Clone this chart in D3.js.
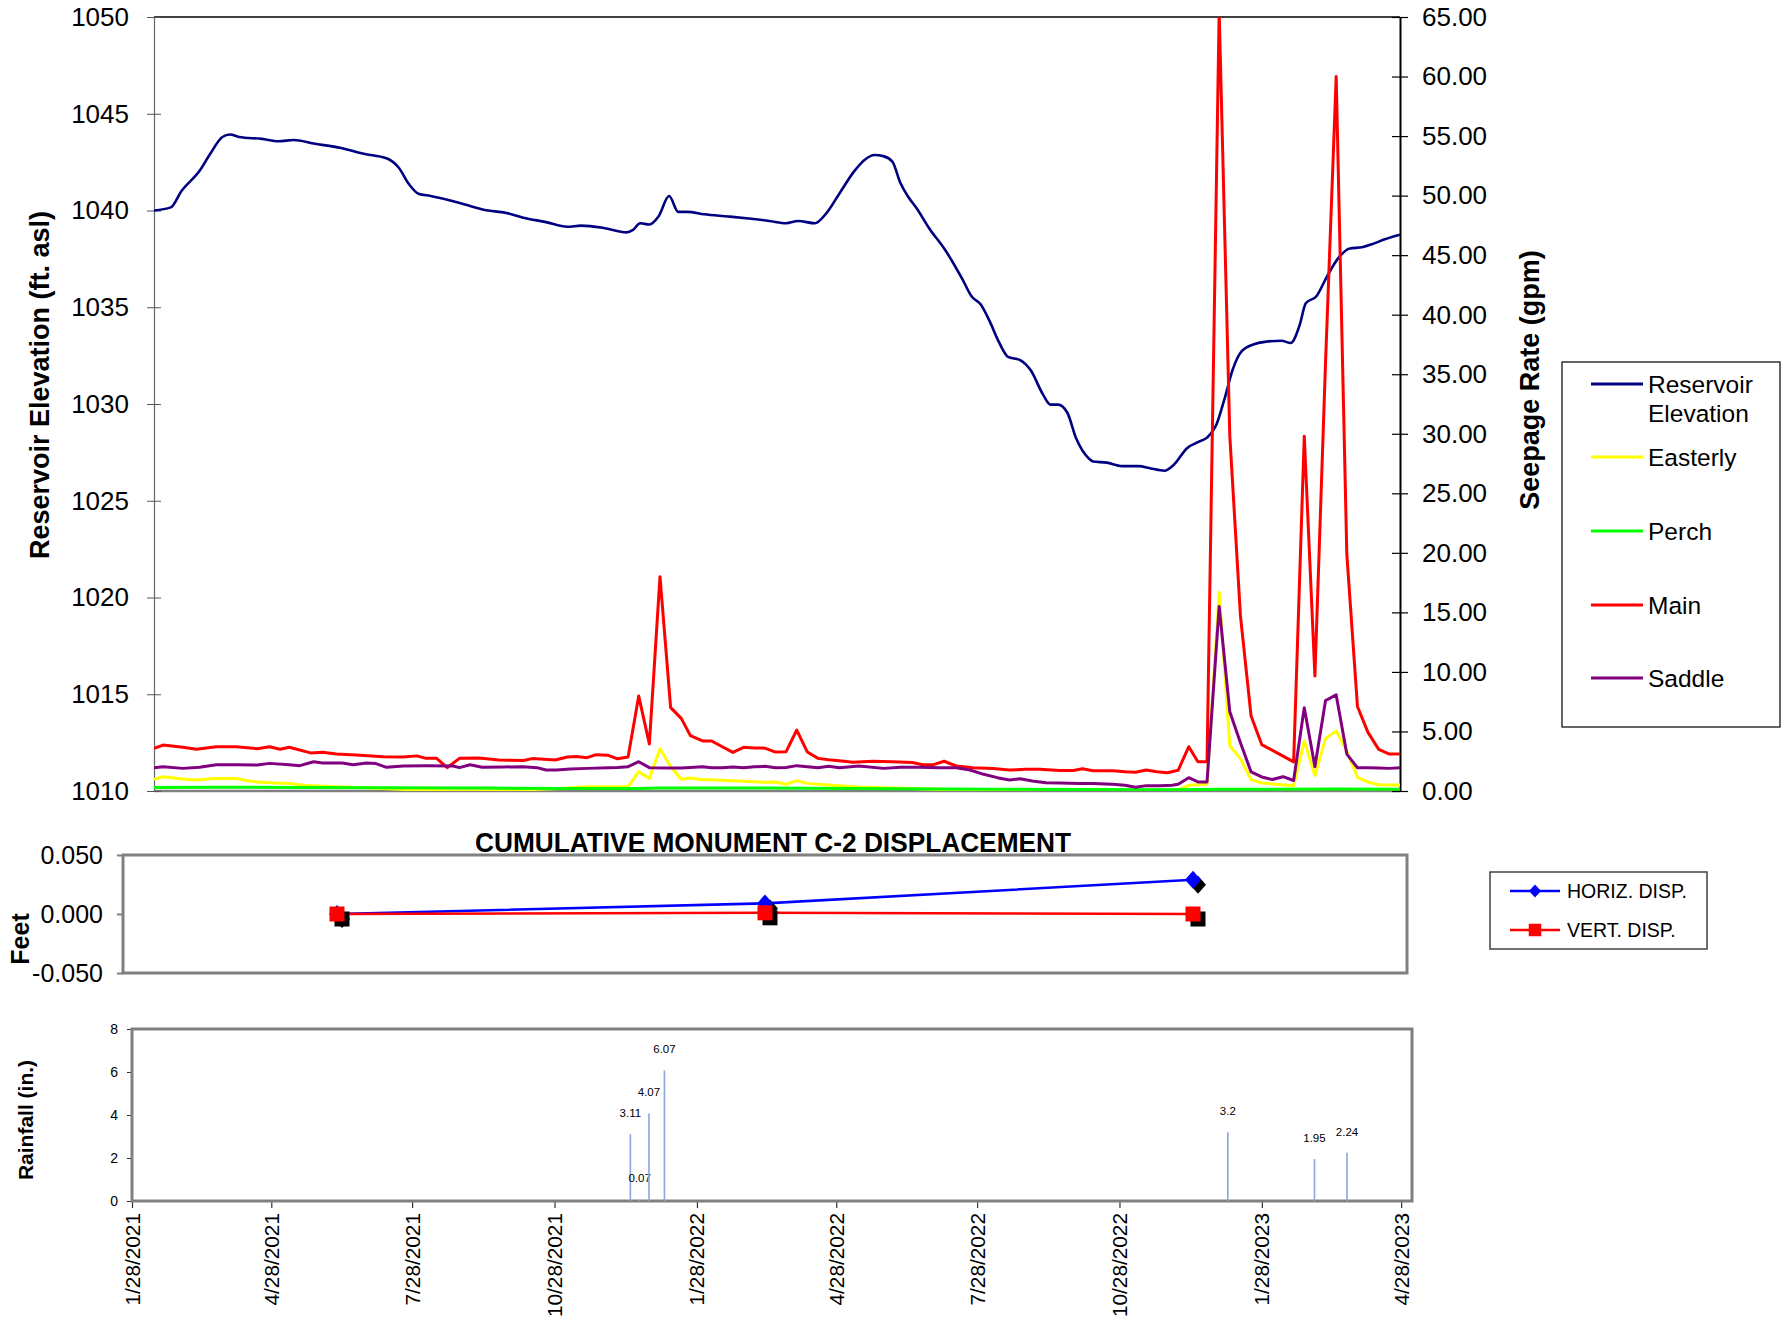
<!DOCTYPE html>
<html><head><meta charset="utf-8">
<script src="https://cdn.jsdelivr.net/npm/d3@7"></script>
<style>
body{margin:0;background:#fff}
svg{display:block}
text{font-family:"Liberation Sans",Arial,sans-serif;fill:#000}
</style>
</head><body>
<svg id="c" width="1787" height="1322"></svg>
<script>
// ---------------- DATA ----------------
const reservoir = [["2021-01-28",1040.0],["2021-02-08",1040.16],["2021-02-15",1041.0],["2021-02-27",1042.05],["2021-03-06",1042.93],["2021-03-14",1043.8],["2021-03-19",1043.93],["2021-03-25",1043.8],["2021-04-09",1043.7],["2021-04-20",1043.58],["2021-04-30",1043.64],["2021-05-13",1043.46],["2021-05-31",1043.23],["2021-06-15",1042.93],["2021-06-30",1042.7],["2021-07-08",1042.22],["2021-07-15",1041.34],["2021-07-21",1040.87],["2021-07-29",1040.75],["2021-08-11",1040.52],["2021-08-22",1040.28],["2021-09-02",1040.04],["2021-09-17",1039.87],["2021-09-28",1039.63],["2021-10-13",1039.4],["2021-10-27",1039.16],["2021-11-05",1039.22],["2021-11-20",1039.1],["2021-12-05",1038.87],["2021-12-09",1038.98],["2021-12-14",1039.34],["2021-12-20",1039.28],["2021-12-26",1039.69],["2022-01-02",1040.75],["2022-01-08",1039.93],["2022-01-14",1039.93],["2022-01-25",1039.81],["2022-02-10",1039.69],["2022-02-25",1039.57],["2022-03-09",1039.46],["2022-03-20",1039.34],["2022-03-28",1039.46],["2022-04-08",1039.34],["2022-04-15",1039.81],["2022-04-24",1040.87],["2022-05-04",1042.05],["2022-05-11",1042.64],["2022-05-17",1042.87],["2022-05-23",1042.81],["2022-05-29",1042.52],["2022-06-03",1041.46],["2022-06-08",1040.75],["2022-06-14",1040.1],["2022-06-22",1039.1],["2022-07-03",1037.92],["2022-07-14",1036.45],["2022-07-20",1035.57],["2022-07-26",1035.15],["2022-08-01",1034.27],["2022-08-07",1033.21],["2022-08-13",1032.44],["2022-08-21",1032.27],["2022-08-28",1031.74],["2022-09-05",1030.5],["2022-09-10",1029.97],["2022-09-15",1029.97],["2022-09-21",1029.56],["2022-09-27",1028.2],["2022-10-05",1027.2],["2022-10-08",1027.03],["2022-10-17",1026.97],["2022-10-27",1026.79],["2022-11-07",1026.79],["2022-11-15",1026.67],["2022-11-24",1026.55],["2022-11-30",1026.85],["2022-12-09",1027.73],["2022-12-16",1028.03],["2022-12-22",1028.26],["2022-12-28",1028.9],["2023-01-03",1030.4],["2023-01-08",1031.8],["2023-01-14",1032.74],["2023-01-22",1033.09],["2023-01-29",1033.21],["2023-02-09",1033.27],["2023-02-15",1033.15],["2023-02-21",1034.09],["2023-02-25",1035.21],["2023-03-04",1035.57],["2023-03-11",1036.6],["2023-03-19",1037.6],["2023-03-26",1038.04],["2023-04-03",1038.1],["2023-04-11",1038.3],["2023-04-18",1038.51],["2023-04-28",1038.75]];

const easterly = [["2021-01-28",0.98],["2021-02-03",1.2],["2021-02-16",1.01],["2021-02-25",0.92],["2021-03-10",1.06],["2021-03-23",1.06],["2021-03-30",0.87],["2021-04-06",0.76],["2021-04-18",0.67],["2021-04-27",0.64],["2021-05-06",0.48],["2021-05-19",0.39],["2021-06-06",0.31],["2021-06-28",0.22],["2021-07-20",0.08],["2021-08-13",0.0],["2021-09-15",0.02],["2021-10-22",0.22],["2021-11-09",0.36],["2021-11-29",0.36],["2021-12-06",0.36],["2021-12-13",1.62],["2021-12-20",1.06],["2021-12-27",3.55],["2022-01-03",2.04],["2022-01-10",0.98],["2022-01-16",1.1],["2022-01-24",0.94],["2022-01-30",0.94],["2022-02-13",0.87],["2022-03-06",0.73],["2022-03-13",0.75],["2022-03-20",0.56],["2022-03-27",0.87],["2022-04-03",0.64],["2022-04-17",0.5],["2022-05-01",0.38],["2022-05-07",0.33],["2022-06-11",0.2],["2022-07-10",0.08],["2022-09-01",0.0],["2022-11-19",0.0],["2022-12-03",0.1],["2022-12-10",0.48],["2022-12-22",0.56],["2022-12-30",16.7],["2023-01-06",3.8],["2023-01-13",2.7],["2023-01-20",0.96],["2023-01-27",0.67],["2023-02-17",0.45],["2023-02-24",4.2],["2023-03-03",1.3],["2023-03-10",4.4],["2023-03-17",5.05],["2023-03-24",3.35],["2023-03-31",1.15],["2023-04-07",0.75],["2023-04-14",0.53],["2023-04-21",0.5],["2023-04-28",0.5]];

const perch = [["2021-01-28",0.3],["2021-03-10",0.32],["2021-05-01",0.3],["2021-07-01",0.27],["2021-09-01",0.25],["2021-10-22",0.22],["2021-12-13",0.2],["2021-12-27",0.26],["2022-02-13",0.26],["2022-04-03",0.24],["2022-06-01",0.18],["2022-08-01",0.15],["2022-10-01",0.12],["2022-12-01",0.1],["2022-12-30",0.14],["2023-02-01",0.14],["2023-03-17",0.16],["2023-04-28",0.14]];

const mainSeep = [["2021-01-28",3.58],["2021-02-03",3.86],["2021-02-16",3.67],["2021-02-25",3.5],["2021-03-10",3.72],["2021-03-23",3.72],["2021-04-06",3.55],["2021-04-14",3.72],["2021-04-21",3.5],["2021-04-27",3.67],["2021-05-11",3.2],["2021-05-19",3.25],["2021-05-28",3.1],["2021-06-10",3.02],["2021-06-28",2.88],["2021-07-11",2.85],["2021-07-20",2.95],["2021-07-26",2.74],["2021-08-02",2.74],["2021-08-09",1.96],["2021-08-17",2.74],["2021-08-30",2.77],["2021-09-12",2.6],["2021-09-28",2.56],["2021-10-04",2.72],["2021-10-19",2.6],["2021-10-27",2.85],["2021-11-02",2.9],["2021-11-09",2.8],["2021-11-15",3.05],["2021-11-23",3.0],["2021-11-29",2.7],["2021-12-06",2.85],["2021-12-13",7.97],["2021-12-20",3.95],["2021-12-27",18.0],["2022-01-03",7.0],["2022-01-10",6.1],["2022-01-16",4.65],["2022-01-24",4.2],["2022-01-30",4.2],["2022-02-06",3.72],["2022-02-13",3.24],["2022-02-20",3.67],["2022-02-27",3.62],["2022-03-06",3.6],["2022-03-13",3.27],["2022-03-20",3.3],["2022-03-27",5.12],["2022-04-03",3.27],["2022-04-10",2.74],["2022-04-17",2.62],["2022-04-24",2.55],["2022-05-03",2.42],["2022-05-16",2.5],["2022-05-29",2.46],["2022-06-11",2.4],["2022-06-18",2.21],["2022-06-25",2.21],["2022-07-02",2.5],["2022-07-10",2.1],["2022-07-21",1.96],["2022-08-03",1.88],["2022-08-14",1.76],["2022-08-25",1.82],["2022-09-03",1.82],["2022-09-16",1.73],["2022-09-25",1.73],["2022-10-01",1.87],["2022-10-08",1.7],["2022-10-21",1.7],["2022-10-29",1.62],["2022-11-05",1.57],["2022-11-12",1.76],["2022-11-19",1.62],["2022-11-26",1.54],["2022-12-03",1.74],["2022-12-10",3.72],["2022-12-16",2.46],["2022-12-22",2.46],["2022-12-30",65.5],["2023-01-06",29.8],["2023-01-13",14.7],["2023-01-20",6.3],["2023-01-27",3.9],["2023-02-17",2.45],["2023-02-24",29.8],["2023-03-03",9.65],["2023-03-10",36],["2023-03-17",60.0],["2023-03-24",19.9],["2023-03-31",7.1],["2023-04-07",4.9],["2023-04-14",3.5],["2023-04-21",3.1],["2023-04-28",3.1]];

const saddle = [["2021-01-28",1.96],["2021-02-03",2.04],["2021-02-16",1.9],["2021-02-27",2.0],["2021-03-10",2.2],["2021-03-23",2.2],["2021-04-06",2.18],["2021-04-14",2.32],["2021-04-27",2.2],["2021-05-04",2.13],["2021-05-13",2.46],["2021-05-19",2.35],["2021-06-01",2.35],["2021-06-08",2.2],["2021-06-17",2.35],["2021-06-23",2.3],["2021-06-30",1.99],["2021-07-11",2.1],["2021-07-26",2.12],["2021-08-13",2.1],["2021-08-17",1.96],["2021-08-24",2.21],["2021-09-01",1.99],["2021-09-15",2.02],["2021-09-28",2.04],["2021-10-07",1.96],["2021-10-13",1.76],["2021-10-20",1.76],["2021-10-29",1.85],["2021-11-09",1.9],["2021-11-23",1.96],["2021-11-29",1.98],["2021-12-06",2.04],["2021-12-13",2.46],["2021-12-20",1.96],["2022-01-03",1.93],["2022-01-10",1.93],["2022-01-16",1.98],["2022-01-24",2.04],["2022-01-30",1.96],["2022-02-06",1.96],["2022-02-13",2.02],["2022-02-20",1.96],["2022-02-27",2.04],["2022-03-06",2.07],["2022-03-13",1.96],["2022-03-20",1.98],["2022-03-27",2.13],["2022-04-03",2.04],["2022-04-10",1.96],["2022-04-17",2.07],["2022-04-24",1.96],["2022-05-07",2.1],["2022-05-23",1.9],["2022-06-03",2.0],["2022-06-16",2.0],["2022-06-29",1.96],["2022-07-10",1.96],["2022-07-19",1.76],["2022-07-28",1.4],["2022-08-06",1.12],["2022-08-14",0.92],["2022-08-21",1.03],["2022-08-29",0.84],["2022-09-07",0.7],["2022-09-16",0.67],["2022-09-29",0.62],["2022-10-08",0.62],["2022-10-21",0.57],["2022-10-29",0.48],["2022-11-05",0.31],["2022-11-12",0.45],["2022-11-21",0.45],["2022-11-29",0.48],["2022-12-03",0.57],["2022-12-10",1.12],["2022-12-16",0.76],["2022-12-22",0.76],["2022-12-30",15.5],["2023-01-06",6.65],["2023-01-13",4.06],["2023-01-20",1.6],["2023-01-27",1.18],["2023-02-03",0.96],["2023-02-10",1.2],["2023-02-17",0.88],["2023-02-24",7.0],["2023-03-03",2.04],["2023-03-10",7.6],["2023-03-17",8.07],["2023-03-24",3.1],["2023-03-31",1.95],["2023-04-07",1.95],["2023-04-14",1.93],["2023-04-21",1.9],["2023-04-28",1.95]];

const seriesNames = ["Reservoir Elevation","Easterly","Perch","Main","Saddle"];
const seriesColors = ["#000080","#ffff00","#00ff00","#ff0000","#800080"];

const elevTicks = [1010,1015,1020,1025,1030,1035,1040,1045,1050];
const seepTicks = [0,5,10,15,20,25,30,35,40,45,50,55,60,65];

const dispCategories = ["Survey 1","Survey 2","Survey 3"];
const horizDisp = [0.000, 0.009, 0.029];
const vertDisp = [0.000, 0.001, 0.000];
const dispTicks = [-0.05, 0, 0.05];

const rainDates = ["2021-12-16","2021-12-22","2021-12-28","2022-01-07","2023-01-06","2023-03-03","2023-03-24"];
const rainValues = [3.11, 0.07, 4.07, 6.07, 3.2, 1.95, 2.24];
const rainTicks = [0,2,4,6,8];
const dateTicks = ["2021-01-28","2021-04-28","2021-07-28","2021-10-28","2022-01-28","2022-04-28","2022-07-28","2022-10-28","2023-01-28","2023-04-28"];

// ---------------- DRAW ----------------
const parse = d3.timeParse("%Y-%m-%d");
const svg = d3.select("#c");
const FONT = "'Liberation Sans',Arial,sans-serif";

// ===== Main chart =====
const M = {l:154, r:1400, t:17, b:791};
const x = d3.scaleTime().domain([parse("2021-01-28"), parse("2023-04-28")]).range([M.l, M.r]);
const yL = d3.scaleLinear().domain([1010,1050]).range([M.b, M.t]);
const yR = d3.scaleLinear().domain([0,65]).range([M.b, M.t]);

svg.append("defs").append("clipPath").attr("id","plotclip")
  .append("rect").attr("x",M.l).attr("y",M.t).attr("width",M.r-M.l).attr("height",M.b-M.t);

// frame lines
svg.append("line").attr("x1",M.l).attr("x2",M.r).attr("y1",M.t).attr("y2",M.t).attr("stroke","#000").attr("stroke-width",1.5);
svg.append("line").attr("x1",M.l).attr("x2",M.r).attr("y1",M.b).attr("y2",M.b).attr("stroke","#808080").attr("stroke-width",2.5);

const gL = svg.append("g").attr("transform",`translate(${M.l},0)`)
  .call(d3.axisLeft(yL).tickValues(elevTicks).tickSize(7).tickSizeOuter(0).tickPadding(18).tickFormat(d3.format("d")));
gL.select(".domain").attr("stroke","#666").attr("stroke-width",1.2);
gL.selectAll(".tick line").attr("x1",7).attr("stroke","#555");
gL.selectAll("text").attr("font-size",26).attr("font-family",FONT).attr("fill","#000");

const gR = svg.append("g").attr("transform",`translate(${M.r},0)`)
  .call(d3.axisRight(yR).tickValues(seepTicks).tickSize(8).tickSizeOuter(0).tickPadding(14).tickFormat(d3.format(".2f")));
gR.select(".domain").attr("stroke","#000").attr("stroke-width",2);
gR.selectAll(".tick line").attr("x1",-8).attr("stroke","#000").attr("stroke-width",1.2);
gR.selectAll("text").attr("font-size",26).attr("font-family",FONT).attr("fill","#000");

// axis titles
svg.append("text").attr("transform","translate(40,385) rotate(-90)")
  .attr("text-anchor","middle").attr("dominant-baseline","central")
  .attr("font-size",27).attr("font-weight","bold").text("Reservoir Elevation (ft. asl)");
svg.append("text").attr("transform","translate(1530,380) rotate(-90)")
  .attr("text-anchor","middle").attr("dominant-baseline","central")
  .attr("font-size",27).attr("font-weight","bold").text("Seepage Rate (gpm)");

// series
const plot = svg.append("g").attr("clip-path","url(#plotclip)");
const lineL = d3.line().x(d=>x(parse(d[0]))).y(d=>yL(d[1])).curve(d3.curveMonotoneX);
const lineR = d3.line().x(d=>x(parse(d[0]))).y(d=>yR(d[1]));
plot.append("path").datum(reservoir).attr("d",lineL).attr("fill","none").attr("stroke",seriesColors[0]).attr("stroke-width",2.6).attr("stroke-linejoin","round");
[easterly, perch, mainSeep, saddle].forEach((s,i)=>{
  plot.append("path").datum(s).attr("d",lineR).attr("fill","none")
    .attr("stroke",seriesColors[i+1]).attr("stroke-width",3).attr("stroke-linejoin","round");
});

// legend
const lg = svg.append("g");
lg.append("rect").attr("x",1562).attr("y",362).attr("width",218).attr("height",365)
  .attr("fill","#fff").attr("stroke","#000").attr("stroke-width",1.2);
const legY = [384,457,531,605,678];
seriesNames.forEach((n,i)=>{
  lg.append("line").attr("x1",1591).attr("x2",1643).attr("y1",legY[i]).attr("y2",legY[i])
    .attr("stroke",seriesColors[i]).attr("stroke-width",3);
  const t = lg.append("text").attr("x",1648).attr("y",legY[i]).attr("dominant-baseline","central").attr("font-size",24.5);
  if(i===0){
    t.append("tspan").attr("x",1648).attr("dy",0).text("Reservoir");
    t.append("tspan").attr("x",1648).attr("dy",29).text("Elevation");
  } else t.text(n);
});

// ===== Displacement chart =====
const D = {l:123, r:1407, t:855, b:973};
const xd = d3.scalePoint().domain(dispCategories).range([D.l, D.r]).padding(0.5);
const yd = d3.scaleLinear().domain([-0.05,0.05]).range([D.b, D.t]);

svg.append("text").attr("x",773).attr("y",852).attr("text-anchor","middle")
  .attr("font-family","Lato, 'Open Sans', sans-serif").attr("font-weight","bold").attr("font-size",27)
  .attr("textLength",596).attr("lengthAdjust","spacingAndGlyphs")
  .text("CUMULATIVE MONUMENT C-2 DISPLACEMENT");

const gD = svg.append("g").attr("transform",`translate(${D.l},0)`)
  .call(d3.axisLeft(yd).tickValues(dispTicks).tickSize(6).tickSizeOuter(0).tickPadding(14)
    .tickFormat(d=>d3.format(".3f")(d).replace("\u2212","-")));
gD.select(".domain").remove();
gD.selectAll(".tick line").attr("stroke","#808080").attr("stroke-width",2);
gD.selectAll("text").attr("font-size",25).attr("font-family",FONT).attr("fill","#000");
svg.append("rect").attr("x",D.l).attr("y",D.t).attr("width",D.r-D.l).attr("height",D.b-D.t)
  .attr("fill","none").attr("stroke","#808080").attr("stroke-width",3);
svg.append("text").attr("transform","translate(20,939) rotate(-90)")
  .attr("text-anchor","middle").attr("dominant-baseline","central")
  .attr("font-size",25).attr("font-weight","bold").text("Feet");

const diamond = (hw,hh)=>`M0,${-hh}L${hw},0L0,${hh}L${-hw},0Z`;
const square = s=>`M${-s/2},${-s/2}h${s}v${s}h${-s}Z`;
const dispSeries = [
  {vals:horizDisp, color:"#0000ff", shape:diamond(8,9), lshape:diamond(6,6.5)},
  {vals:vertDisp, color:"#ff0000", shape:square(15), lshape:square(12.5)}
];
const dl = d3.line().x((d,i)=>xd(dispCategories[i])).y(d=>yd(d));
dispSeries.forEach(s=>{
  svg.append("path").datum(s.vals).attr("d",dl).attr("fill","none").attr("stroke",s.color).attr("stroke-width",2.6);
  s.vals.forEach((v,i)=>{
    svg.append("path").attr("d",s.shape).attr("transform",`translate(${xd(dispCategories[i])+5},${yd(v)+5})`).attr("fill","#000");
    svg.append("path").attr("d",s.shape).attr("transform",`translate(${xd(dispCategories[i])},${yd(v)})`).attr("fill",s.color);
  });
});
// disp legend
svg.append("rect").attr("x",1490).attr("y",872).attr("width",217).attr("height",77)
  .attr("fill","#fff").attr("stroke","#404040").attr("stroke-width",1.5);
["HORIZ. DISP.","VERT. DISP."].forEach((n,i)=>{
  const yy = [891,930][i];
  svg.append("line").attr("x1",1510).attr("x2",1560).attr("y1",yy).attr("y2",yy).attr("stroke",dispSeries[i].color).attr("stroke-width",2.6);
  svg.append("path").attr("d",dispSeries[i].lshape).attr("transform",`translate(1535,${yy})`).attr("fill",dispSeries[i].color);
  svg.append("text").attr("x",1567).attr("y",yy).attr("dominant-baseline","central").attr("font-size",19.5).text(n);
});

// ===== Rainfall chart =====
const Rn = {l:132, r:1412, t:1029, b:1201};
const xr = d3.scaleTime().domain([parse("2021-01-28"), d3.timeDay.offset(parse("2023-04-28"),7)]).range([Rn.l, Rn.r]);
const yr = d3.scaleLinear().domain([0,8]).range([Rn.b, Rn.t]);

const gRy = svg.append("g").attr("transform",`translate(${Rn.l},0)`)
  .call(d3.axisLeft(yr).tickValues(rainTicks).tickSize(5).tickSizeOuter(0).tickPadding(9));
gRy.select(".domain").remove();
gRy.selectAll(".tick line").attr("stroke","#333");
gRy.selectAll("text").attr("font-size",14).attr("font-family",FONT).attr("fill","#000");

const gRx = svg.append("g").attr("transform",`translate(0,${Rn.b})`)
  .call(d3.axisBottom(xr).tickValues(dateTicks.map(parse)).tickSize(7).tickSizeOuter(0).tickFormat(()=>""));
gRx.select(".domain").remove();
gRx.selectAll(".tick line").attr("stroke","#333").attr("stroke-width",1.2);
const fmt = d3.timeFormat("%-m/%-d/%Y");
dateTicks.forEach(d=>{
  svg.append("text").attr("transform",`translate(${xr(parse(d))},1213) rotate(-90)`)
    .attr("text-anchor","end").attr("dominant-baseline","central").attr("font-size",20.8)
    .text(fmt(parse(d)));
});

svg.append("rect").attr("x",Rn.l).attr("y",Rn.t).attr("width",Rn.r-Rn.l).attr("height",Rn.b-Rn.t)
  .attr("fill","none").attr("stroke","#808080").attr("stroke-width",3);

rainValues.forEach((v,i)=>{
  const xx = xr(parse(rainDates[i]));
  svg.append("line").attr("x1",xx).attr("x2",xx).attr("y1",yr(0)).attr("y2",yr(v))
    .attr("stroke","#8aa6da").attr("stroke-width",1.6);
  svg.append("text").attr("x",xx).attr("y",yr(v)-17).attr("text-anchor","middle")
    .attr("font-size",11.5).attr("fill","#222").text(String(v));
});

svg.append("text").attr("transform","translate(25,1120) rotate(-90)")
  .attr("text-anchor","middle").attr("dominant-baseline","central")
  .attr("font-size",21).attr("font-weight","bold").text("Rainfall (in.)");
</script>
</body></html>
